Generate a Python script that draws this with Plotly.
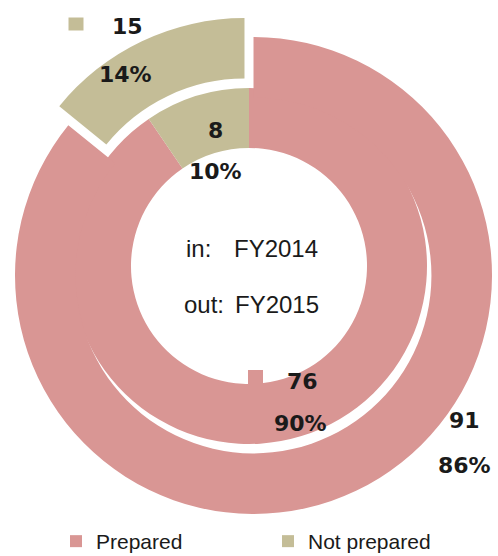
import plotly.graph_objects as go

# ---- data ----
categories = ["Prepared", "Not prepared"]
fy2015_out = [91, 15]   # outer ring
fy2014_in = [76, 8]     # inner ring
center_labels = ["in:", "FY2014", "out:", "FY2015"]

colors = ["#D99694", "#C4BD97"]

W, H = 498, 556
CX, CY = 249, 266          # pie centre in px
R_OUT_BOX = 249            # half-size of outer domain box
R_IN = 178
PULL = 0.044


def px2paper_x(x):
    return x / W


def px2paper_y(y):
    return 1 - y / H


fig = go.Figure()

fig.add_trace(go.Pie(
    labels=categories, values=fy2014_in,
    marker=dict(colors=colors, line=dict(width=0)),
    hole=0.663, sort=False, direction="clockwise", rotation=0,
    textinfo="none", hoverinfo="label+value+percent", showlegend=False,
    domain=dict(x=[px2paper_x(CX - R_IN), px2paper_x(CX + R_IN)],
                y=[px2paper_y(CY + R_IN), px2paper_y(CY - R_IN)]),
))

fig.add_trace(go.Pie(
    labels=categories, values=fy2015_out,
    marker=dict(colors=colors, line=dict(width=0)),
    hole=0.746, sort=False, direction="clockwise", rotation=0,
    pull=[PULL, PULL],
    textinfo="none", hoverinfo="label+value+percent", showlegend=True,
    domain=dict(x=[0, 1],
                y=[px2paper_y(CY + R_OUT_BOX), px2paper_y(CY - R_OUT_BOX)]),
))

annotations = []
shapes = []
val_font = dict(family="DejaVu Sans", size=22, color="#1a1a1a")


def pct(vals, i):
    return f"{round(100 * vals[i] / sum(vals))}%"


def add_txt(text, x, y, font=val_font, xanchor="center"):
    annotations.append(dict(text=text, x=px2paper_x(x), y=px2paper_y(y),
                            xref="paper", yref="paper", showarrow=False,
                            xanchor=xanchor, yanchor="middle", font=font))


def add_key(x, y, color, w=15, h=13):
    shapes.append(dict(type="rect", xref="paper", yref="paper",
                       x0=px2paper_x(x - w / 2), x1=px2paper_x(x + w / 2),
                       y0=px2paper_y(y + h / 2), y1=px2paper_y(y - h / 2),
                       fillcolor=color, line=dict(width=0)))


# outer ring labels
add_key(76, 24, colors[1])
add_txt(f"<b>{fy2015_out[1]}</b>", 127, 26)
add_txt(f"<b>{pct(fy2015_out, 1)}</b>", 126, 74)
add_txt(f"<b>{fy2015_out[0]}</b>", 464, 420)
add_txt(f"<b>{pct(fy2015_out, 0)}</b>", 464, 465)

# inner ring labels
add_txt(f"<b>{fy2014_in[1]}</b>", 215, 130)
add_txt(f"<b>{pct(fy2014_in, 1)}</b>", 215, 171)
add_key(255.5, 377, colors[0], w=15, h=14)
add_txt(f"<b>{fy2014_in[0]}</b>", 302, 381)
add_txt(f"<b>{pct(fy2014_in, 0)}</b>", 300, 423)

# centre text
c_font = dict(family="Liberation Sans", size=24, color="#1a1a1a")
add_txt(center_labels[0], 184, 248, c_font, "left")
add_txt(center_labels[1], 232, 248, c_font, "left")
add_txt(center_labels[2], 182, 304, c_font, "left")
add_txt(center_labels[3], 233, 304, c_font, "left")

fig.update_layout(
    width=W, height=H,
    margin=dict(l=0, r=0, t=0, b=0, autoexpand=False),
    paper_bgcolor="white", plot_bgcolor="white",
    annotations=annotations, shapes=shapes,
    legend=dict(orientation="h", x=px2paper_x(56), xanchor="left",
                y=-6 / H, yanchor="bottom",
                font=dict(family="Liberation Sans", size=21, color="#1a1a1a"),
                entrywidth=167, entrywidthmode="pixels",
                itemwidth=30, bgcolor="rgba(0,0,0,0)"),
)

fig.write_html("out.html",
               config={"displayModeBar": False},
               post_script="document.body.style.margin='0px';"
                           "document.body.style.overflow='hidden';")
